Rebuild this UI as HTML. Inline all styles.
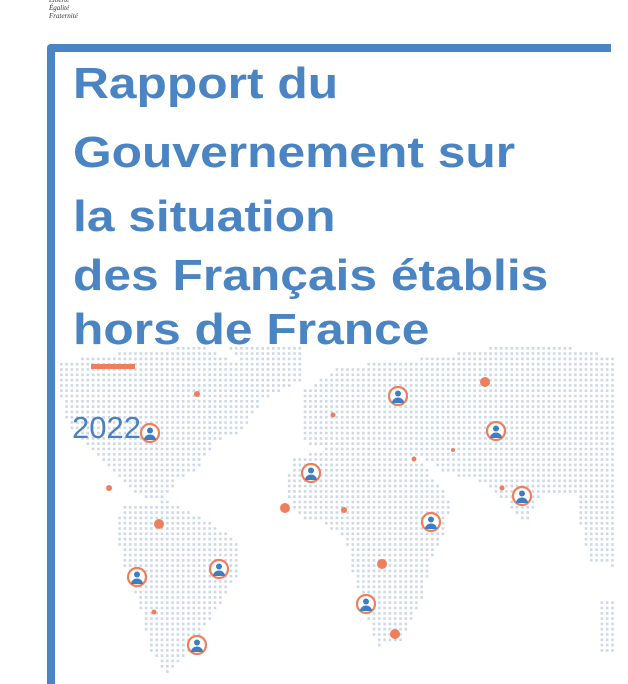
<!DOCTYPE html>
<html><head><meta charset="utf-8"><style>
html,body{margin:0;padding:0;background:#fff;}
body{width:628px;height:675px;position:relative;overflow:hidden;font-family:"Liberation Sans",sans-serif;}
#map{position:absolute;left:0;top:0;}
.frame-top{position:absolute;left:47px;top:44px;width:564px;height:8px;background:#4a86c5;border-radius:4px 0 0 0;}
.frame-left{position:absolute;left:47px;top:44px;width:8px;height:640px;background:#4a86c5;border-radius:4px 0 0 0;}
.title{position:absolute;left:73px;color:#4a84c3;font-weight:bold;font-size:44px;line-height:1;white-space:nowrap;transform:scaleX(1.13);transform-origin:0 0;}
.motto{position:absolute;left:49px;top:-4px;font-family:"Liberation Serif",serif;font-style:italic;font-size:7px;line-height:8px;color:#333;}
.bar{position:absolute;left:91px;top:364px;width:44px;height:5px;background:#ee7f5a;}
.year{position:absolute;left:72px;top:412px;font-size:31px;color:#4a7fc0;line-height:1;}
</style></head><body>
<div class="motto">Liberté<br>Égalité<br>Fraternité</div>
<svg id="map" width="628" height="675"></svg>
<div class="frame-top"></div>
<div class="frame-left"></div>
<div class="title" style="top:62px">Rapport du</div>
<div class="title" style="top:131px">Gouvernement sur</div>
<div class="title" style="top:195px">la situation</div>
<div class="title" style="top:254px">des Français établis</div>
<div class="title" style="top:308px">hors de France</div>
<div class="bar"></div>
<div class="year">2022</div>
<script>
const regions=[
[[60,360],[130,350],[200,345],[235,360],[270,355],[300,350],[300,380],[260,400],[240,430],[215,440],[195,470],[175,480],[160,500],[140,495],[110,470],[90,450],[65,420],[60,400]],
[[225,345],[300,345],[290,375],[255,380]],
[[120,505],[165,500],[210,520],[240,545],[235,575],[215,610],[195,640],[175,665],[165,675],[150,650],[140,610],[125,570],[115,530]],
[[300,390],[340,365],[400,360],[470,350],[520,340],[560,345],[612,355],[612,490],[575,495],[540,490],[525,525],[505,500],[480,480],[440,470],[420,455],[380,455],[330,450],[300,440]],
[[290,455],[330,450],[380,455],[420,460],[450,500],[445,525],[430,560],[420,600],[400,640],[375,645],[365,610],[350,570],[345,540],[320,520],[295,515],[285,490]],
[[575,495],[612,490],[612,565],[590,560],[580,530]],
[[598,600],[612,600],[612,650],[598,650]]
];
const pins=[[150,433],[311,473],[398,396],[496,431],[522,496],[431,522],[219,569],[137,577],[366,604],[197,645]];
const dots=[[485,382,5],[197,394,3],[333,415,2.5],[414,459,2.5],[453,450,2],[109,488,3],[159,524,5],[285,508,5],[344,510,3],[382,564,5],[502,488,2.5],[154,612,2.5],[395,634,5]];
const svg=document.getElementById('map');const NS='http://www.w3.org/2000/svg';
function inside(p,poly){let c=false;for(let i=0,j=poly.length-1;i<poly.length;j=i++){const[xi,yi]=poly[i],[xj,yj]=poly[j];if(((yi>p[1])!=(yj>p[1]))&&(p[0]<(xj-xi)*(p[1]-yi)/(yj-yi)+xi))c=!c;}return c;}
let d='';
for(let y=347;y<675;y+=5.3){for(let x=60;x<613;x+=5.3){if(regions.some(r=>inside([x,y],r)))d+=`M${x.toFixed(1)} ${y.toFixed(1)}h2.6v2.6h-2.6z`;}}
const pth=document.createElementNS(NS,'path');pth.setAttribute('d',d);pth.setAttribute('fill','#ccd8ea');


svg.appendChild(pth);
dots.forEach(([x,y,r])=>{const c=document.createElementNS(NS,'circle');c.setAttribute('cx',x);c.setAttribute('cy',y);c.setAttribute('r',r);c.setAttribute('fill','#ee7f5a');


svg.appendChild(c);});
pins.forEach(([x,y])=>{const g=document.createElementNS(NS,'g');


g.innerHTML=`<circle cx="${x}" cy="${y}" r="9" fill="#fff" stroke="#ee7f5a" stroke-width="2.2"/><circle cx="${x}" cy="${y-2.5}" r="3" fill="#3f7dc2"/><path d="M${x-6} ${y+7}a6 5.5 0 0 1 12 0z" fill="#3f7dc2"/>`;svg.appendChild(g);});
</script>
</body></html>
